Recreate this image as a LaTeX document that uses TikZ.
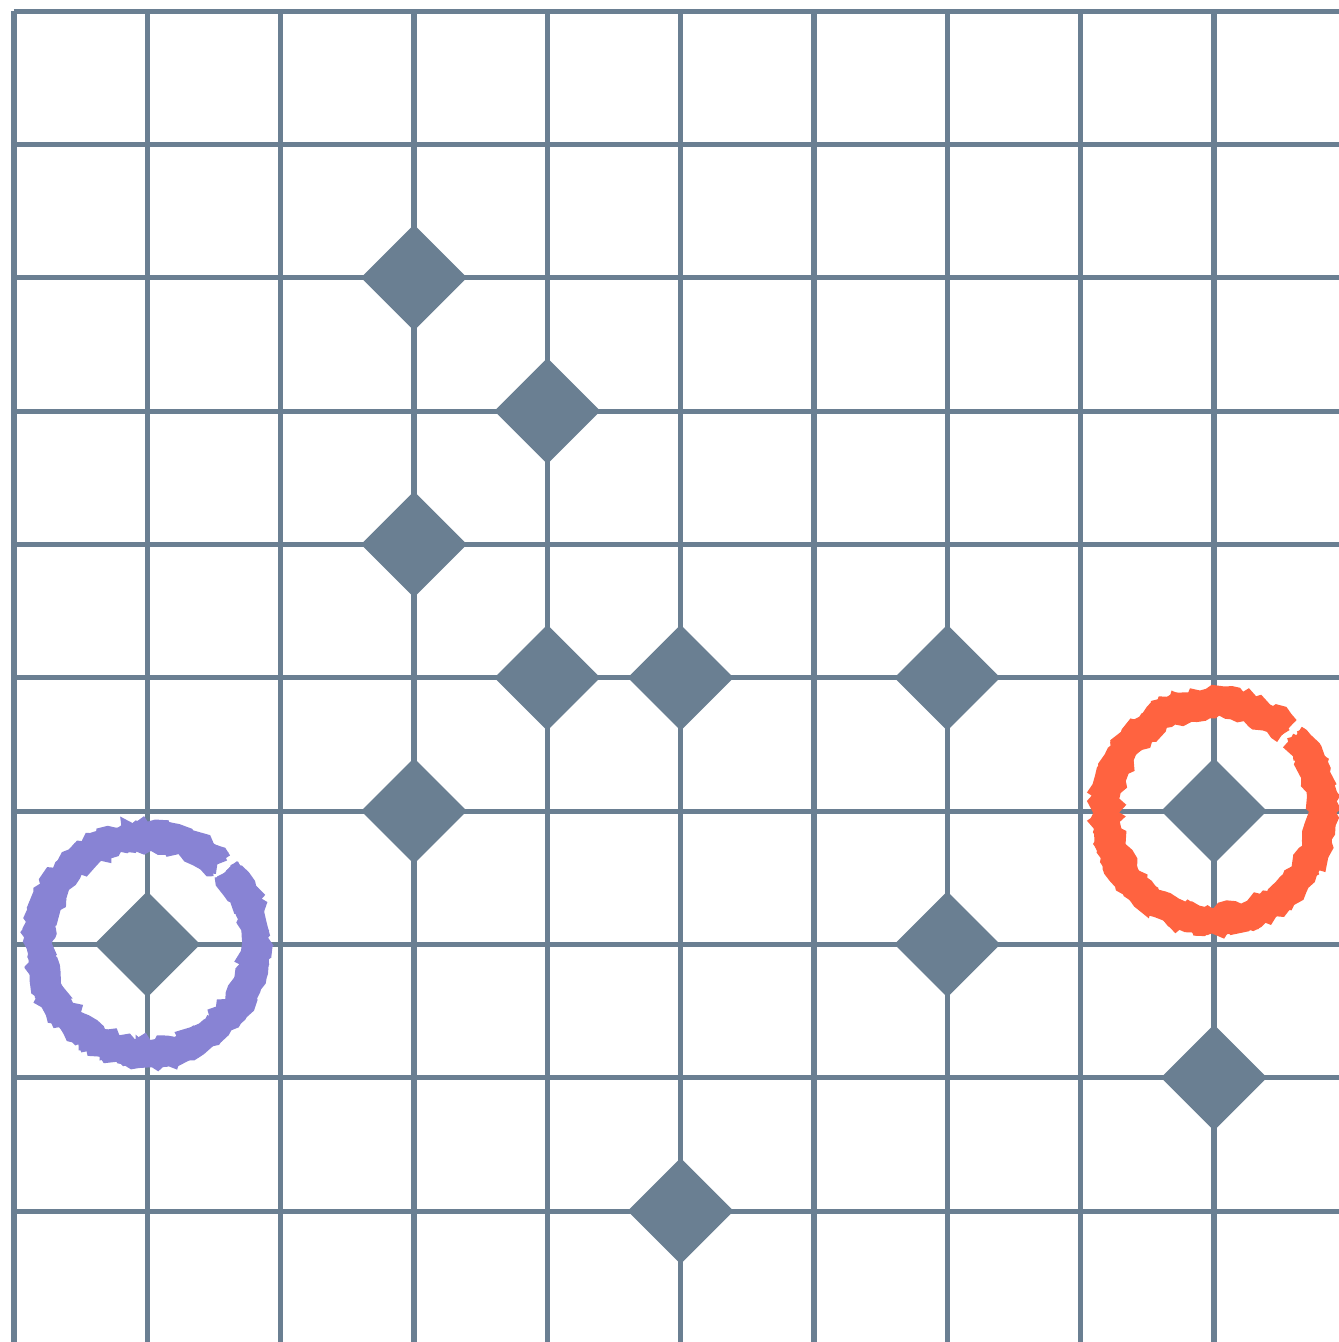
\documentclass[tikz,border=0pt]{standalone}
\usepackage{tikz}
\usetikzlibrary{shapes.geometric, decorations.pathmorphing}
\definecolor{gridslate}{HTML}{6A7F92}
\definecolor{markorange}{HTML}{FF6340}
\definecolor{markviolet}{HTML}{8883D4}
\tikzset{
  stone/.style={diamond, aspect=1, fill=gridslate, draw=none, inner sep=0pt, minimum width=0.80cm, minimum height=0.80cm},
  ringstroke/.style={line width=#1, decorate, decoration={random steps, segment length=1.4pt, amplitude=0.8pt}}
}

\begin{document}
\begin{tikzpicture}
\useasboundingbox (-0.105,-9.9825) rectangle (9.9375,0.0825);
\fill[white] (-0.105,-9.9825) rectangle (9.9375,0.0825);
\draw[gridslate, line width=1.07pt, step=1cm] (0,-9.9825) grid (9.9375,0);
% stones on the board
\node[stone] (s1) at (3,-2) {}; \node[stone] (s2) at (4,-3) {};
\node[stone] (s3) at (3,-4) {}; \node[stone] (s4) at (4,-5) {};
\node[stone] (s5) at (5,-5) {}; \node[stone] (s6) at (7,-5) {};
\node[stone] (s7) at (3,-6) {}; \node[stone] (s8) at (9,-6) {};
\node[stone] (s9) at (1,-7) {}; \node[stone] (s10) at (7,-7) {};
\node[stone] (s11) at (9,-8) {}; \node[stone] (s12) at (5,-9) {};
% rough rings round the marked stones
\pgfmathsetseed{7}
\foreach \r/\w in {0.74/2.2pt, 0.78/3pt, 0.82/3pt, 0.86/3pt, 0.89/1.8pt} {
  \draw[markorange, ringstroke=\w] (s8.center) ++(48:\r) arc (48:403:\r);
  \draw[markviolet, ringstroke=\w] (s9.center) ++(48:\r) arc (48:403:\r);
}
\end{tikzpicture}
\end{document}
